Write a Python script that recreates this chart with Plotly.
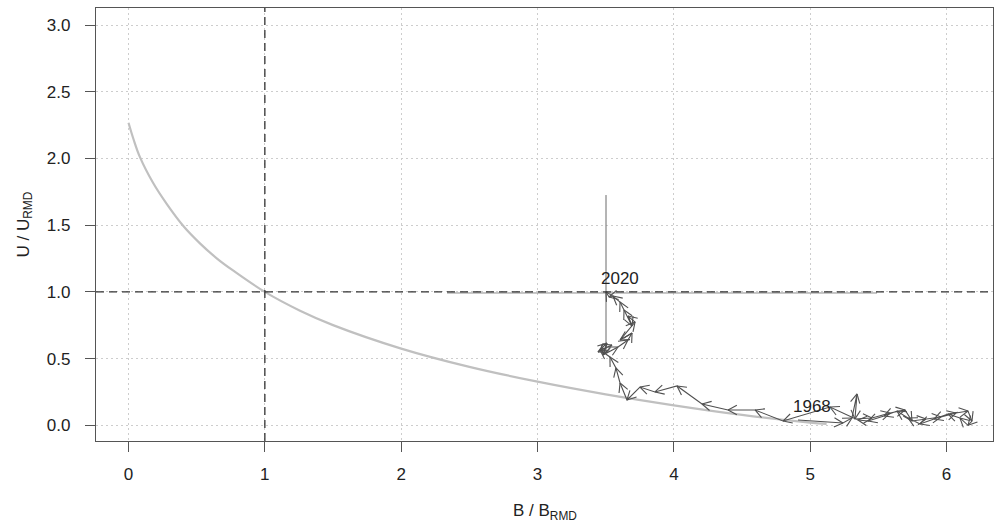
import math
import plotly.graph_objects as go

# ---------------- data ----------------
years = list(range(1968, 2021))
B_ratio = [4.910, 5.240, 5.306, 5.343, 5.328, 5.453, 5.585, 5.695, 5.746, 5.849,
           5.959, 6.069, 6.157, 6.186, 6.157, 6.098, 6.010, 5.908, 5.805, 5.717,
           5.636, 5.541, 5.424, 5.350, 5.145, 4.800, 4.595, 4.397, 4.206, 4.023,
           3.861, 3.751, 3.656, 3.605, 3.575, 3.531, 3.458, 3.546, 3.443, 3.509,
           3.480, 3.590, 3.663, 3.693, 3.605, 3.715, 3.663, 3.693, 3.634, 3.605,
           3.553, 3.524, 3.502]
U_ratio = [0.040, 0.017, 0.055, 0.235, 0.047, 0.055, 0.092, 0.115, 0.032, 0.047,
           0.062, 0.092, 0.107, 0.032, 0.000, 0.055, 0.085, 0.047, 0.010, 0.055,
           0.107, 0.070, 0.032, 0.040, 0.137, 0.032, 0.115, 0.115, 0.160, 0.295,
           0.250, 0.287, 0.190, 0.317, 0.430, 0.512, 0.564, 0.602, 0.549, 0.617,
           0.527, 0.587, 0.639, 0.692, 0.639, 0.774, 0.819, 0.744, 0.864, 0.924,
           0.969, 0.962, 1.000]
labelled_years = [1968, 2020]

# equilibrium reference curve
curve_B = [0.0, 0.035, 0.084, 0.182, 0.280, 0.402, 0.524, 0.647, 0.769, 1.0,
           1.258, 1.5, 2.0, 2.5, 3.0, 3.5, 4.0, 4.5, 5.0, 5.12]
curve_U = [2.268, 2.150, 2.010, 1.814, 1.660, 1.494, 1.364, 1.252, 1.159, 1.0,
           0.859, 0.751, 0.575, 0.438, 0.327, 0.232, 0.150, 0.078, 0.020, 0.010]

# uncertainty of the final year
ci_B = [2.336, 5.49]
ci_U = [0.55, 1.726]

x_ticks = [0, 1, 2, 3, 4, 5, 6]
y_ticks = [0.0, 0.5, 1.0, 1.5, 2.0, 2.5, 3.0]
y_tick_text = ["0.0", "0.5", "1.0", "1.5", "2.0", "2.5", "3.0"]

# ---------------- layout geometry ----------------
W, H = 994, 523
M = dict(l=96, r=1, t=8, b=82)
x_range = [-0.2384, 6.3403]
y_range = [-0.1177, 3.1282]
plot_w = W - M["l"] - M["r"]
plot_h = H - M["t"] - M["b"]
sx = plot_w / (x_range[1] - x_range[0])
sy = plot_h / (y_range[1] - y_range[0])

AX = "#555555"
TXT = "#222222"
FONT = "Liberation Sans, Arial, sans-serif"
FS = 17

fig = go.Figure()

# reference curve
fig.add_trace(go.Scatter(x=curve_B, y=curve_U, mode="lines",
                         line=dict(color="#c0c0c0", width=2.2, shape="spline", smoothing=1.0),
                         hoverinfo="skip", showlegend=False))

# CI lines
fig.add_trace(go.Scatter(x=ci_B, y=[U_ratio[-1] - 0.008] * 2, mode="lines",
                         line=dict(color="#8a8a8a", width=1), showlegend=False, hoverinfo="skip"))
fig.add_trace(go.Scatter(x=[B_ratio[-1]] * 2, y=ci_U, mode="lines",
                         line=dict(color="#6a6a6a", width=1), showlegend=False, hoverinfo="skip"))

# trajectory path
fig.add_trace(go.Scatter(x=B_ratio, y=U_ratio, mode="lines",
                         line=dict(color="#505050", width=1.1),
                         text=[str(y) for y in years], hoverinfo="text", showlegend=False))

# open arrowheads, computed in pixel space
head_len = 10.0
half_ang = math.radians(28)
hx, hy = [], []
for i in range(1, len(B_ratio)):
    dxp = (B_ratio[i] - B_ratio[i - 1]) * sx
    dyp = (U_ratio[i] - U_ratio[i - 1]) * sy
    if abs(dxp) + abs(dyp) < 1e-6:
        continue
    th = math.atan2(dyp, dxp)
    for s in (1, -1):
        a = th + s * half_ang
        hx += [B_ratio[i] - head_len * math.cos(a) / sx, B_ratio[i], None]
        hy += [U_ratio[i] - head_len * math.sin(a) / sy, U_ratio[i], None]
fig.add_trace(go.Scatter(x=hx, y=hy, mode="lines",
                         line=dict(color="#505050", width=1.1),
                         hoverinfo="skip", showlegend=False))

# year labels
for yr in labelled_years:
    i = years.index(yr)
    fig.add_annotation(x=B_ratio[i], y=U_ratio[i], text=str(yr), showarrow=False,
                       xanchor="center", yanchor="middle", xshift=14, yshift=13,
                       font=dict(family=FONT, size=FS, color=TXT))

# reference dashed lines
dash = "8px,5px"
fig.add_shape(type="line", xref="x", yref="paper", x0=1, x1=1, y0=0, y1=1,
              line=dict(color="#333333", width=1.3, dash=dash))
fig.add_shape(type="line", xref="paper", yref="y", x0=0, x1=1, y0=1, y1=1,
              line=dict(color="#333333", width=1.3, dash=dash))

# axis titles
fig.add_annotation(xref="paper", yref="paper", x=0.5, y=(441 - 512) / plot_h,
                   text="B / B<sub>RMD</sub>", showarrow=False,
                   xanchor="center", yanchor="middle",
                   font=dict(family=FONT, size=FS, color=TXT))
fig.add_annotation(xref="paper", yref="paper", x=(24 - M["l"]) / plot_w, y=0.5,
                   text="U / U<sub>RMD</sub>", showarrow=False, textangle=-90,
                   xanchor="center", yanchor="middle",
                   font=dict(family=FONT, size=FS, color=TXT))

axis_common = dict(showline=True, mirror=True, linecolor=AX, linewidth=1.3,
                   ticks="outside", ticklen=10, tickwidth=1.3, tickcolor=AX,
                   showgrid=True, gridcolor="#cdcdcd", griddash="2px,3px", gridwidth=1,
                   zeroline=False, tickfont=dict(family=FONT, size=FS, color=TXT))

fig.update_xaxes(range=x_range, tickvals=x_ticks, ticklabelstandoff=7, **axis_common)
fig.update_yaxes(range=y_range, tickvals=y_ticks, ticktext=y_tick_text,
                 ticklabelstandoff=11, **axis_common)

fig.update_layout(width=W, height=H, margin=M, plot_bgcolor="white", paper_bgcolor="white",
                  showlegend=False)

fig.write_html("out.html")
